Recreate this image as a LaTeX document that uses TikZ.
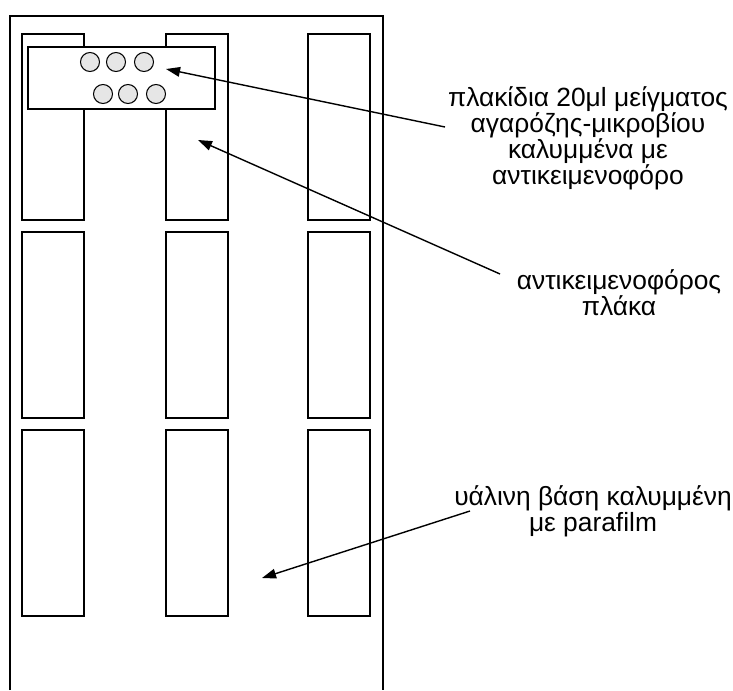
\documentclass[tikz,border=0pt]{standalone}
\usepackage{fontspec}
\setmainfont{Liberation Sans}
\usetikzlibrary{arrows.meta,positioning}
\definecolor{dropgray}{RGB}{230,230,230}
\tikzset{
  slide/.style={draw=black, line width=0.6pt, fill=white},
  platebox/.style={draw=black, line width=0.7pt, fill=white},
  drop/.style={circle, draw=black, line width=0.6pt, fill=dropgray, minimum size=0.38cm, inner sep=0pt},
  pointer/.style={-{Triangle[length=8pt,width=5.5pt]}, line width=0.8pt, draw=black},
  label/.style={align=center, font=\fontsize{15}{14.8}\selectfont, inner sep=0pt}
}
\begin{document}
\begin{tikzpicture}[x=0.02cm, y=-0.02cm]
  \useasboundingbox (0,0) rectangle (733,690);
  % glass base (open at the bottom)
  \draw[line width=0.6pt] (10,690) -- (10,16) -- (383,16) -- (383,690);
  % slides, 3 columns x 3 rows
  \foreach \col/\x in {1/22,2/166,3/308}{
    \foreach \row/\y in {1/34,2/232,3/430}{
      \draw[slide] (\x,\y) rectangle ++(62,186);
    }
  }
  % agarose plate with drops
  \draw[platebox] (28,47) rectangle (215,109);
  \foreach \i/\x/\y in {1/90/62,2/116/62,3/144/62,4/103/94,5/128/94,6/156/94}{
    \node[drop] (drop\i) at (\x,\y) {};
  }
  % labels
  \node[label] (droplabel) at (588,138) {πλακίδια 20μl μείγματος\\αγαρόζης-μικροβίου\\καλυμμένα με\\αντικειμενοφόρο};
  \node[label] (slidelabel) at (619,293) {αντικειμενοφόρος\\πλάκα};
  \node[label] (baselabel) at (593,511) {υάλινη βάση καλυμμένη\\με parafilm};
  % pointers
  \coordinate (dropTail) at (445,127);
  \coordinate (dropTip) at (166,69);
  \coordinate (slideTail) at (500,274);
  \coordinate (slideTip) at (198,140);
  \coordinate (baseTail) at (470,511);
  \coordinate (baseTip) at (262,578);
  \draw[pointer] (dropTail) -- (dropTip);
  \draw[pointer] (slideTail) -- (slideTip);
  \draw[pointer] (baseTail) -- (baseTip);
\end{tikzpicture}
\end{document}
